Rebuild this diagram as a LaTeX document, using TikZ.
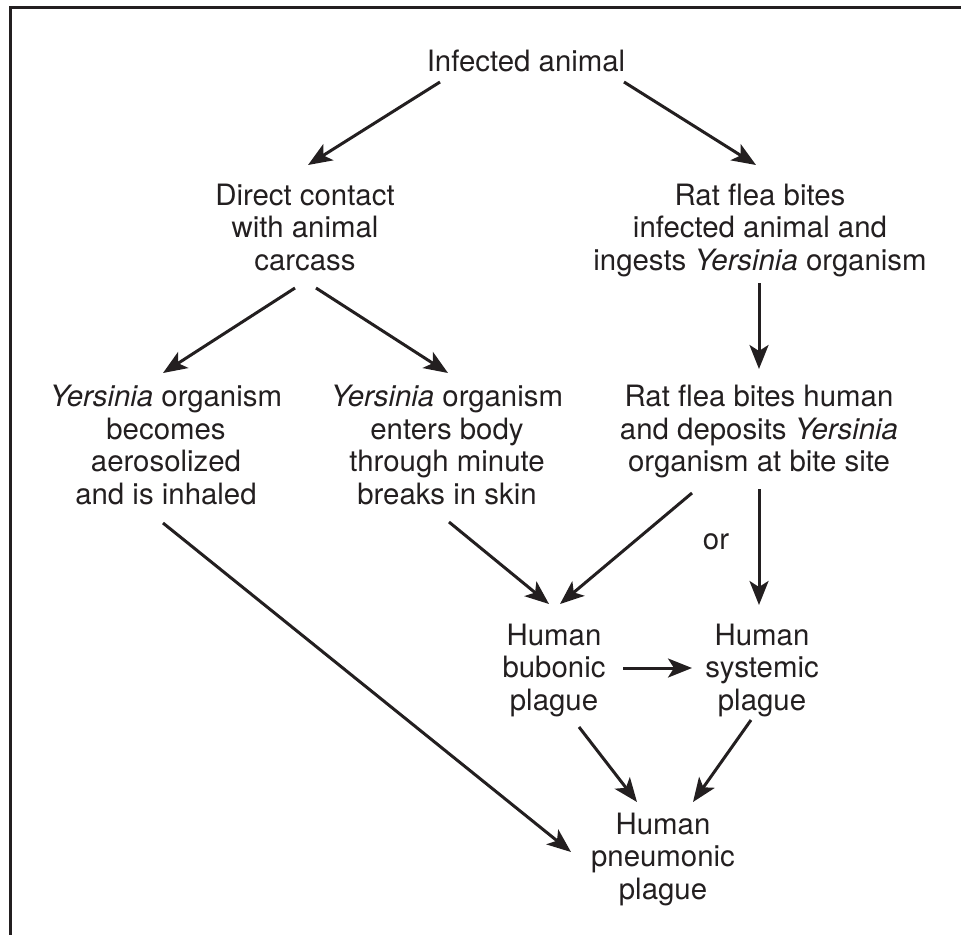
\documentclass[tikz,border=0pt]{standalone}
\usepackage{fontspec}
\setmainfont{TeX Gyre Heros}
\usetikzlibrary{arrows.meta}
\definecolor{ink}{HTML}{231F20}
\begin{document}
\begin{tikzpicture}[x=1pt,y=-1pt,
  lbl/.style={inner sep=0pt, align=center, text=ink,
    font=\fontsize{29.4}{32.5}\selectfont,
    execute at begin node=\strut, execute at end node=\strut},
  arr/.style={draw=ink, line width=3pt,
    -{Stealth[length=24pt,width=19pt,inset=6pt]}},
  frame/.style={draw=ink, line width=3pt}]
\useasboundingbox (0,0) rectangle (961,935);
\draw[frame] (961,7) -- (10,7) -- (10,935);

\node[lbl] (inf) at (526,65.3) {Infected animal};
\node[lbl] (direct) at (305,231.8) {Direct contact\\with animal\\carcass};
\node[lbl] (rat1) at (760,231.8) {Rat flea bites\\infected animal and\\ingests \textit{Yersinia} organism};
\node[lbl] (aero) at (166,449.8) {\textit{Yersinia} organism\\becomes\\aerosolized\\and is inhaled};
\node[lbl] (enters) at (447,449.8) {\textit{Yersinia} organism\\enters body\\through minute\\breaks in skin};
\node[lbl] (rat2) at (759,433.3) {Rat flea bites human\\and deposits \textit{Yersinia}\\organism at bite site};
\node[lbl] (or) at (716,542.6) {or};
\node[lbl] (bub) at (554,671.8) {Human\\bubonic\\plague};
\node[lbl] (sys) at (762,671.8) {Human\\systemic\\plague};
\node[lbl] (pneu) at (663,860.8) {Human\\pneumonic\\plague};

\draw[arr] ([shift={(-86,16.7)}]inf.center) -- ([shift={(3,-66.8)}]direct.center);
\draw[arr] ([shift={(98,16.7)}]inf.center) -- ([shift={(-4,-66.8)}]rat1.center);
\draw[arr] ([shift={(-10,56.2)}]direct.center) -- ([shift={(-3,-76.8)}]aero.center);
\draw[arr] ([shift={(11,56.2)}]direct.center) -- ([shift={(1,-76.8)}]enters.center);
\draw[arr] ([shift={(-1,51.2)}]rat1.center) -- ([shift={(0,-64.3)}]rat2.center);
\draw[arr] ([shift={(-3,73.2)}]aero.center) -- ([shift={(-92,-8.8)}]pneu.center);
\draw[arr] ([shift={(2,72.2)}]enters.center) -- ([shift={(-5,-67.8)}]bub.center);
\draw[arr] ([shift={(-67,59.7)}]rat2.center) -- ([shift={(6,-67.8)}]bub.center);
\draw[arr] ([shift={(0,55.7)}]rat2.center) -- ([shift={(-3,-66.8)}]sys.center);
\draw[arr] ([shift={(69,-3.8)}]bub.center) -- ([shift={(-70,-3.8)}]sys.center);
\draw[arr] ([shift={(25,55.2)}]bub.center) -- ([shift={(-26,-58.8)}]pneu.center);
\draw[arr] ([shift={(-11,48.2)}]sys.center) -- ([shift={(30,-58.8)}]pneu.center);
\end{tikzpicture}
\end{document}
